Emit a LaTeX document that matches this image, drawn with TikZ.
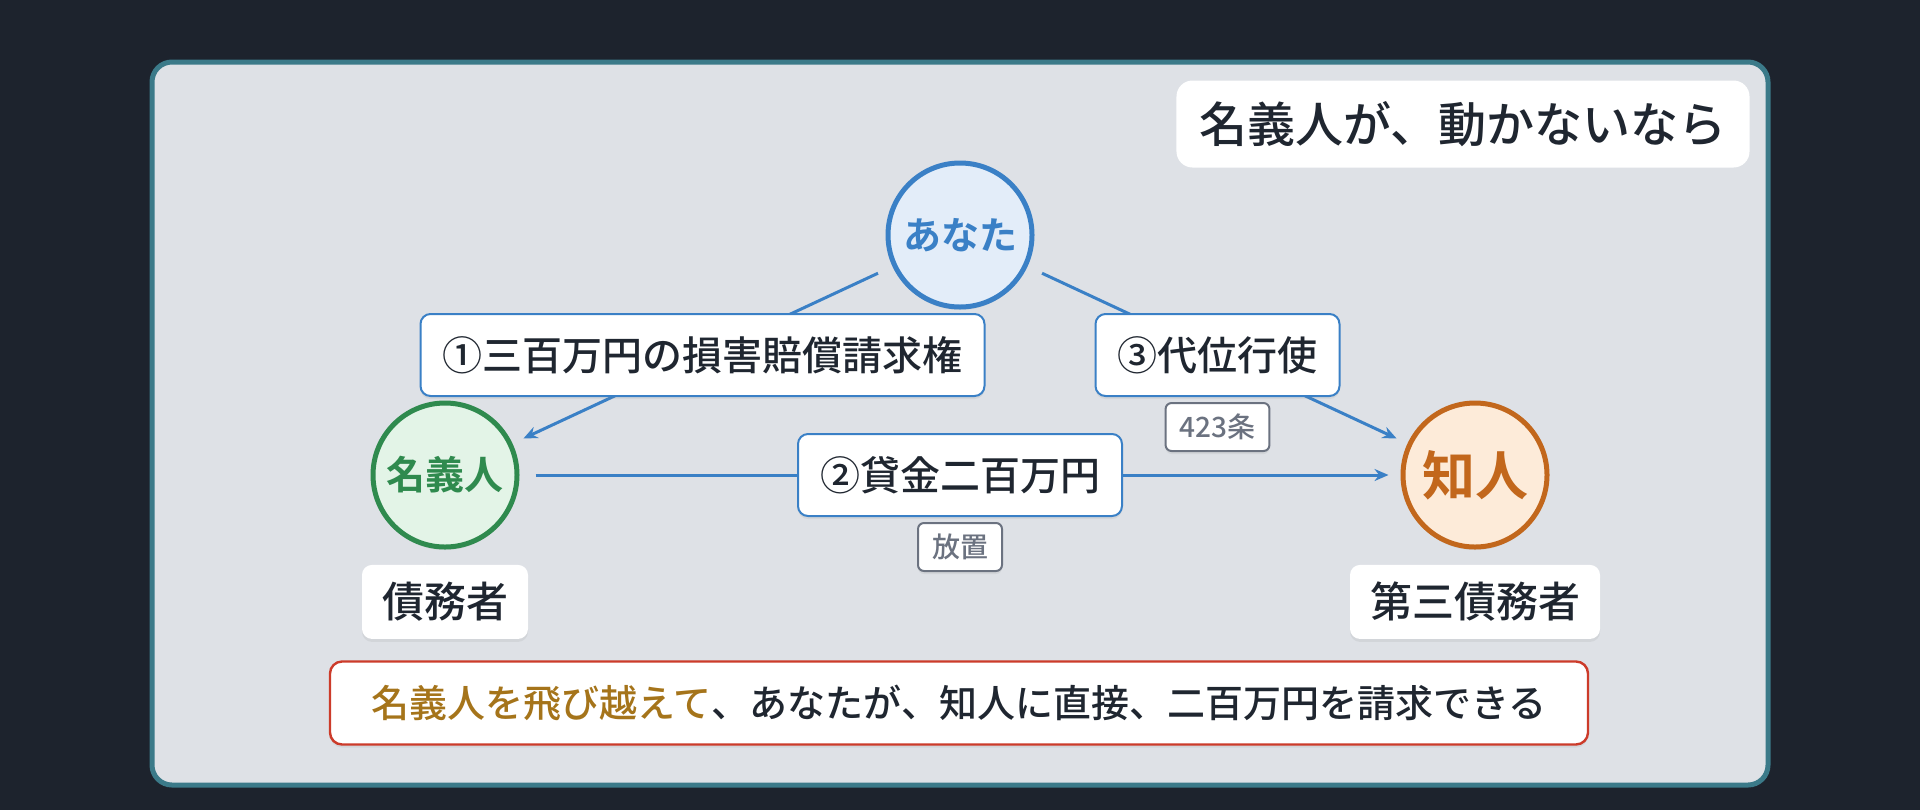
\documentclass[tikz,border=0pt]{standalone}
\usepackage{fontspec}
\setmainfont{Noto Sans CJK JP Medium}[BoldFont={Noto Sans CJK JP Bold}]
\usepackage{xcolor}
\usetikzlibrary{arrows.meta}
\usetikzlibrary{positioning}
\usetikzlibrary{shadows}

\definecolor{nacht}{HTML}{1D232D}
\definecolor{tafel}{HTML}{DEE1E6}
\definecolor{rahmen}{HTML}{3B7A89}
\definecolor{tinte}{HTML}{1F2630}
\definecolor{blau}{HTML}{3A80C6}
\definecolor{blauhell}{HTML}{E3EDF9}
\definecolor{gruen}{HTML}{2F8A4E}
\definecolor{gruenhell}{HTML}{E3F4E7}
\definecolor{orange}{HTML}{C2671C}
\definecolor{orangehell}{HTML}{FDEBD9}
\definecolor{rot}{HTML}{CC3B2A}
\definecolor{braun}{HTML}{A5741A}
\definecolor{grau}{HTML}{6B7280}

\begin{document}
\begin{tikzpicture}[x=0.5pt, y=-0.5pt,
    schatten/.style={drop shadow={opacity=0.12, shadow xshift=0pt, shadow yshift=-1.5pt}},
    person/.style={circle, line width=2.5pt, minimum size=72pt, inner sep=0pt, schatten},
    anspruch/.style={draw=blau, line width=1pt, fill=white, rounded corners=5pt, inner xsep=11pt,
        minimum height=41pt, text=tinte, font=\fontsize{20}{24}\selectfont, schatten},
    rolle/.style={fill=white, rounded corners=5pt, inner xsep=10pt, minimum height=37pt,
        text=tinte, font=\fontsize{21}{25}\selectfont, schatten},
    marke/.style={draw=grau, line width=1pt, fill=white, rounded corners=3pt, inner xsep=7pt,
        minimum height=24pt, text=grau, font=\fontsize{14}{16}\selectfont, schatten},
    pfeil/.style={-{Stealth[length=7pt, width=6pt]}, line width=1.5pt, draw=blau,
        shorten <=8pt, shorten >=6pt}]

    % Hintergrund
    \fill[nacht] (0,0) rectangle (1920,810);
    \useasboundingbox (0,0) rectangle (1920,810);
    \draw[rahmen, line width=2.5pt, fill=tafel, rounded corners=10pt] (152,62) rectangle (1768,785);

    % Titel
    \node[fill=white, rounded corners=8pt, inner xsep=11.5pt, minimum height=43.5pt, text=tinte,
        font=\fontsize{24}{28}\selectfont] (titel) at (1463,124) {名義人が、動かないなら};

    % Personen
    \node[person, draw=blau, fill=blauhell, text=blau, font=\fontsize{19}{22}\selectfont\bfseries]
        (anata) at (960,235) {あなた};
    \node[person, draw=gruen, fill=gruenhell, text=gruen, font=\fontsize{19.5}{22}\selectfont\bfseries]
        (meigi) at (445,475) {名義人};
    \node[person, draw=orange, fill=orangehell, text=orange, font=\fontsize{26.5}{30}\selectfont\bfseries]
        (chijin) at (1475,475) {知人};

    % Rollen
    \node[rolle, below=7.5pt of meigi] (schuldner) {債務者};
    \node[rolle, below=7.5pt of chijin] (drittschuldner) {第三債務者};

    % Ansprueche
    \draw[pfeil] (anata) -- (meigi) node[anspruch, midway] (lab1) {①三百万円の損害賠償請求権};
    \draw[pfeil] (meigi) -- (chijin) node[anspruch, midway] (lab2) {②貸金二百万円};
    \draw[pfeil] (anata) -- (chijin) node[anspruch, midway] (lab3) {③代位行使};

    \node[marke, below=2.5pt of lab3] (artikel) {423条};
    \node[marke, below=2.5pt of lab2] (liegen) {放置};

    % Ergebnis
    \node[draw=rot, line width=1.2pt, fill=white, rounded corners=6pt, minimum width=629pt,
        minimum height=41.5pt, text=tinte, font=\fontsize{19}{23}\selectfont, schatten]
        (ergebnis) at (959,703) {{\color{braun}名義人を飛び越えて}、あなたが、知人に直接、二百万円を請求できる};
\end{tikzpicture}
\end{document}
